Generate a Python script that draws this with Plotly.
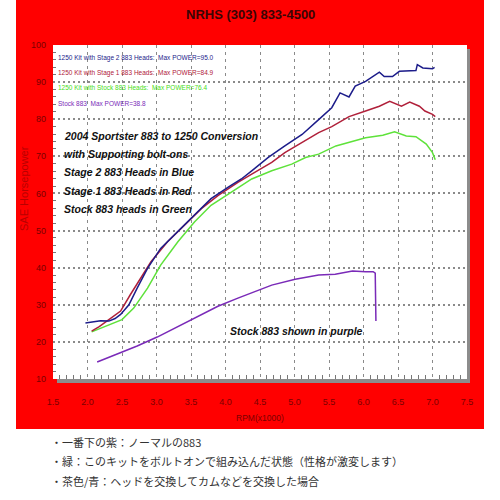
import plotly.graph_objects as go

# RPM (x1000) / SAE horsepower
stage2_rpm = [1.97, 2.08, 2.19, 2.31, 2.40, 2.48, 2.60, 2.72, 2.87, 3.06, 3.31, 3.55, 3.79, 4.04,
              4.23, 4.38, 4.62, 4.86, 5.11, 5.35, 5.54, 5.66, 5.79, 5.88, 6.03, 6.23, 6.30, 6.42,
              6.52, 6.76, 6.78, 6.86, 7.00, 7.03]
stage2_hp = [25.1, 25.4, 25.7, 25.6, 26.3, 27.4, 30.0, 34.5, 39.8, 45.2, 49.7, 54.1, 58.6, 61.7,
             63.9, 66.1, 69.7, 72.8, 75.9, 79.9, 83.1, 87.1, 86.0, 88.9, 90.2, 92.7, 91.5, 91.5,
             92.9, 93.1, 94.7, 93.8, 93.6, 94.0]

stage1_rpm = [2.06, 2.17, 2.28, 2.48, 2.62, 2.77, 2.92, 3.16, 3.40, 3.65, 3.89, 4.18, 4.38, 4.67,
              4.86, 5.11, 5.35, 5.54, 5.79, 6.03, 6.23, 6.38, 6.48, 6.55, 6.67, 6.81, 6.89, 7.00,
              7.04]
stage1_hp = [22.9, 24.1, 25.6, 28.3, 32.7, 37.2, 41.6, 47.0, 51.4, 55.9, 59.4, 63.0, 65.2, 68.4,
             71.0, 73.7, 76.4, 78.0, 80.7, 82.2, 83.5, 84.8, 84.0, 83.5, 84.6, 83.5, 82.2, 81.3,
             80.7]

stock_heads_rpm = [2.06, 2.20, 2.33, 2.50, 2.67, 2.87, 3.06, 3.31, 3.55, 3.79, 4.08, 4.38, 4.67,
                   4.96, 5.16, 5.35, 5.60, 5.84, 6.03, 6.28, 6.45, 6.62, 6.76, 6.91, 7.00, 7.04]
stock_heads_hp = [22.7, 23.8, 24.7, 26.0, 29.1, 34.5, 40.7, 47.0, 52.3, 56.8, 60.3, 63.9, 66.1,
                  67.9, 69.7, 70.6, 72.8, 74.1, 75.0, 75.7, 76.6, 75.5, 75.3, 73.3, 71.0, 69.1]

stock_rpm = [2.14, 2.43, 2.72, 3.01, 3.31, 3.60, 3.89, 4.18, 4.38, 4.67, 5.01, 5.35, 5.59, 5.84,
             6.03, 6.14, 6.17, 6.18]
stock_hp = [14.6, 16.7, 18.9, 21.3, 24.2, 26.9, 29.6, 31.8, 33.3, 35.3, 36.9, 38.0, 38.2, 39.1,
            38.9, 38.9, 38.5, 25.6]

legend_lines = [
    ("1250 Kit with Stage 2 883 Heads:  Max POWER=95.0", "#1c1c8a"),
    ("1250 Kit with Stage 1 883 Heads:  Max POWER=84.9", "#b0203a"),
    ("1250 Kit with Stock 883 Heads:  Max POWER=76.4", "#48e020"),
    ("Stock 883  Max POWER=38.8", "#7a2ab8"),
]
note_lines = [
    "2004 Sportster 883 to 1250 Conversion",
    "with Supporting bolt-ons",
    "Stage 2 883 Heads in Blue",
    "Stage 1 883 Heads in Red",
    "Stock 883 heads in Green",
]
jp_lines = [
    "・一番下の紫：ノーマルの883",
    "・緑：このキットをボルトオンで組み込んだ状態（性格が激変します）",
    "・茶色/青：ヘッドを交換してカムなどを交換した場合",
]

SANS = "Liberation Sans, Arial"
W, H = 500, 500
L, R, T, B = 53, 33, 45, 121
pw, ph = W - L - R, H - T - B


def px(x):  # pixel -> paper x
    return (x - L) / pw


def py(y):  # pixel -> paper y
    return (H - B - y) / ph


fig = go.Figure()
series = [
    (stock_rpm, stock_hp, "#7a2ab8"),
    (stock_heads_rpm, stock_heads_hp, "#5ee23a"),
    (stage1_rpm, stage1_hp, "#b0203a"),
    (stage2_rpm, stage2_hp, "#1c1c8a"),
]
for xs, ys, c in series:
    fig.add_trace(go.Scatter(x=xs, y=ys, mode="lines", line=dict(color=c, width=1.5),
                             showlegend=False, hoverinfo="skip"))

# red sheet, plot shadow, white plot card
for x0, x1, y0, y1, col in [(16, 484, 429, 0, "#ff0000"),
                            (57, 470, 383, 49, "#8c8c8c"),
                            (53, 467, 379, 45, "#ffffff")]:
    fig.add_shape(type="rect", xref="paper", yref="paper", layer="below",
                  x0=px(x0), x1=px(x1), y0=py(y0), y1=py(y1),
                  fillcolor=col, line_width=0)

ann = []
ann.append(dict(x=px(250), y=py(14), text="<b>NRHS (303) 833-4500</b>",
                font=dict(family=SANS, size=13, color="#3a0505")))
for i, (t, c) in enumerate(legend_lines):
    ann.append(dict(x=px(56), y=py(58 + i * 15), text=t, xanchor="left",
                    font=dict(family=SANS, size=6.5, color=c)))
for i, t in enumerate(note_lines):
    ann.append(dict(x=px(62), y=py(136 + i * 18.2), text="<b><i>%s</i></b>" % t, xanchor="left",
                    font=dict(family=SANS, size=10.5, color="#111111")))
ann.append(dict(x=px(296), y=py(331), text="<b><i>Stock 883 shown in purple</i></b>",
                font=dict(family=SANS, size=10.5, color="#111111")))
ann.append(dict(x=px(24), y=py(188), text="SAE Horsepower", textangle=-90,
                font=dict(family=SANS, size=11, color="#b80000")))
ann.append(dict(x=px(260), y=py(418), text="RPM(x1000)",
                font=dict(family=SANS, size=8.5, color="#7a0000")))
for i, t in enumerate(jp_lines):
    ann.append(dict(x=px(49), y=py(442 + i * 19.3), text=t, xanchor="left",
                    font=dict(family="Noto Sans CJK JP", size=11, color="#333333")))
for a in ann:
    a.update(xref="paper", yref="paper", showarrow=False, yanchor="middle")
    a.setdefault("xanchor", "center")

fig.update_layout(
    width=W, height=H,
    margin=dict(l=L, r=R, t=T, b=B),
    paper_bgcolor="white", plot_bgcolor="rgba(0,0,0,0)",
    annotations=ann,
    xaxis=dict(range=[1.5, 7.5], dtick=0.5, tick0=1.5, tickformat=".1f",
               showgrid=True, gridcolor="#8a8a8a", griddash="3px,4px", gridwidth=1.3,
               zeroline=False, showline=False, ticks="", ticklabelstandoff=16,
               tickfont=dict(family=SANS, size=9, color="#7a0000"),
               minor=dict(ticks="inside", dtick=0.1, ticklen=4, tickcolor="#777777",
                          showgrid=False)),
    yaxis=dict(range=[10, 100], dtick=10, showgrid=True, gridcolor="#8a8a8a",
               griddash="2px,3px", gridwidth=1.5, zeroline=False, showline=False,
               ticks="", ticklabelstandoff=6,
               tickfont=dict(family=SANS, size=9, color="#7a0000"),
               minor=dict(ticks="inside", dtick=2, ticklen=3, tickcolor="#777777",
                          showgrid=False)),
)

fig.write_html("out.html", config={"displayModeBar": False},
               post_script="document.body.style.margin='0';")
